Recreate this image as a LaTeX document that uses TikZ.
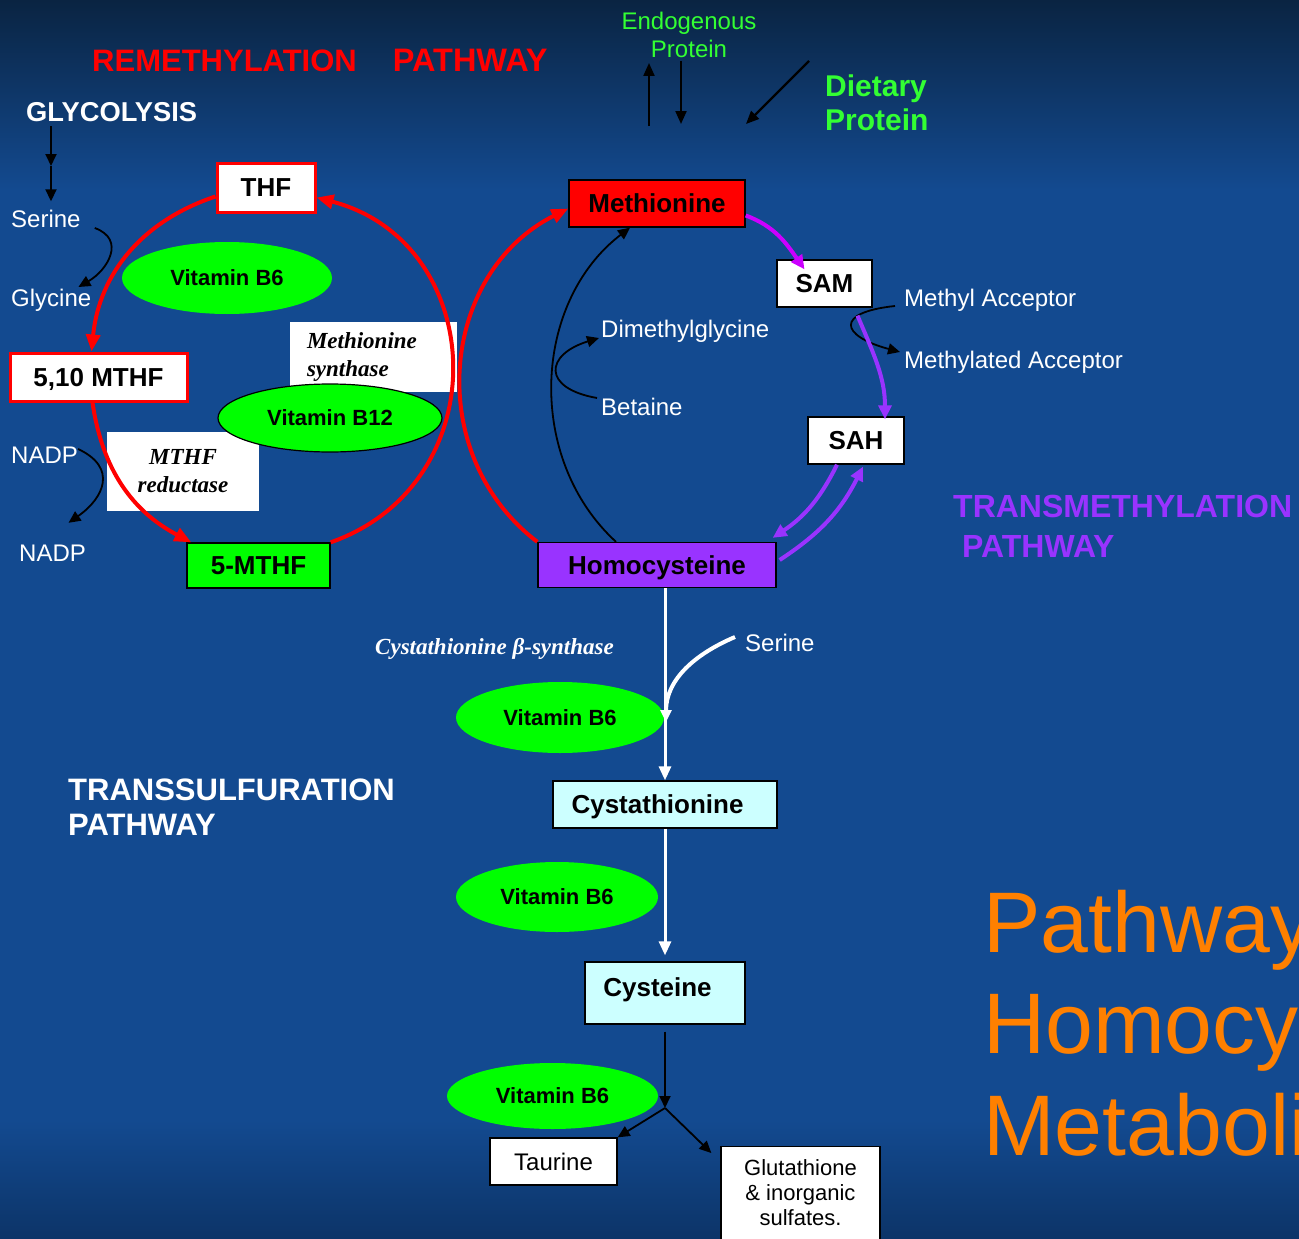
\documentclass[tikz,border=0pt]{standalone}
\usepackage{fontspec}
\setmainfont{Liberation Sans}
\newfontfamily\timesfont{Liberation Serif}
\usetikzlibrary{arrows.meta}
\usetikzlibrary{positioning}
\usetikzlibrary{shapes.geometric}
\newcommand{\setfs}[2]{\fontsize{#1}{#2}\selectfont}

\definecolor{bgtop}{RGB}{10,36,66}
\definecolor{bgmid}{RGB}{19,74,144}
\definecolor{bgbot}{RGB}{12,52,104}
\definecolor{vgreen}{RGB}{0,255,0}
\definecolor{tgreen}{RGB}{51,255,51}
\definecolor{hcypurple}{RGB}{153,51,255}
\definecolor{smagenta}{RGB}{204,0,255}
\definecolor{cyanbox}{RGB}{204,255,255}
\definecolor{titleorange}{RGB}{255,128,0}

\begin{document}
\begin{tikzpicture}[x=1pt,y=-1pt,inner sep=0pt]
\tikzstyle{txt}=[text=white,font=\setfs{24}{28},text height=17pt,text depth=0pt,anchor=west]
\tikzstyle{head}=[font=\bfseries\setfs{31}{36},text height=22pt,text depth=0pt,anchor=west]
\tikzstyle{box}=[draw=black,line width=1.3pt,fill=white,font=\bfseries\setfs{26}{30},text height=18.7pt,text depth=0pt]
\tikzstyle{redbox}=[box,draw=red,line width=3pt]
\tikzstyle{vit}=[ellipse,fill=vgreen,font=\bfseries\setfs{22}{26},text height=15.8pt,text depth=0pt]
\tikzstyle{enz}=[fill=white,font=\timesfont\bfseries\itshape\setfs{23}{28}]
\tikzstyle{thinarr}=[-{Triangle[length=12pt,width=11pt]},line width=1.8pt,black]
\tikzstyle{protarr}=[-{Triangle[length=13pt,width=11pt]},line width=2.2pt,black]
\tikzstyle{redarr}=[-{Triangle[length=17pt,width=14pt]},line width=4pt,red]
\tikzstyle{purparr}=[-{Triangle[length=14pt,width=13pt]},line width=4pt,hcypurple]
\tikzstyle{magarr}=[purparr,smagenta]
\tikzstyle{whitearr}=[-{Triangle[length=14pt,width=12pt]},line width=3pt,white]
\tikzstyle{whitecurve}=[-{Triangle[length=12pt,width=11pt]},line width=4pt,white]

\useasboundingbox (0,0) rectangle (1299,1239);
\clip (0,0) rectangle (1299,1239);
\fill[bgmid] (0,0) rectangle (1299,1239);
\shade[top color=bgtop,bottom color=bgmid] (0,0) rectangle (1299,190);
\shade[top color=bgmid,bottom color=bgbot] (0,1120) rectangle (1299,1239);

% remethylation cycle
\node[head,text=red] (remeth) at (92,61) {REMETHYLATION\hspace{36pt}{\setfs{32.5}{36}PATHWAY}};
\node[head,text=white,font=\bfseries\setfs{27.3}{30},text height=19.6pt] (glyco) at (26,112) {GLYCOLYSIS};
\node[txt] (ser1) at (11,219) {Serine};
\node[txt] (gly) at (11,298) {Glycine};
\node[txt] (nadp1) at (11,455) {NADP};
\node[txt] (nadp2) at (19,553) {NADP};

\node[enz,minimum width=167,minimum height=70,align=left,text width=133] (msyn) at (373.5,357) {Methionine\\synthase};
\node[enz,minimum width=152,minimum height=79,align=center] (mred) at (183,471.5) {MTHF\\reductase};
\node[vit,minimum width=210,minimum height=72] (vb6a) at (227,278) {Vitamin B6};
\node[vit,draw=black,line width=1.2pt,minimum width=224,minimum height=68] (vb12) at (330,418) {Vitamin B12};
\node[redbox,minimum width=98,minimum height=49] (THF) at (266,187.5) {THF};
\node[redbox,minimum width=177,minimum height=48] (M510) at (98.5,377) {5,10 MTHF};
\node[box,fill=vgreen,minimum width=143,minimum height=45] (M5) at (258.5,565.5) {5-MTHF};

% methionine cycle
\node[align=center,text=tgreen,font=\setfs{24}{28}] (endo) at (689,35) {Endogenous\\Protein};
\node[anchor=west,align=left,text=tgreen,font=\bfseries\setfs{30}{34}] (diet) at (825,103) {Dietary\\Protein};
\node[box,fill=red,minimum width=176,minimum height=47] (Met) at (657,203.5) {Methionine};
\node[box,minimum width=95,minimum height=47] (SAM) at (824.5,283.5) {SAM};
\node[box,minimum width=96,minimum height=47] (SAH) at (856,440.5) {SAH};
\node[box,fill=hcypurple,minimum width=238,minimum height=45] (Hcy) at (657,565) {Homocysteine};
\node[txt] (dmg) at (601,329) {Dimethylglycine};
\node[txt] (bet) at (601,407) {Betaine};
\node[txt] (macc) at (904,298) {Methyl Acceptor};
\node[txt] (mdacc) at (904,360) {Methylated Acceptor};
\node[head,text=hcypurple,font=\bfseries\setfs{32}{36}] (tm1) at (953,506) {TRANSMETHYLATION};
\node[head,text=hcypurple,font=\bfseries\setfs{32}{36}] (tm2) at (962,546) {PATHWAY};

% transsulfuration
\node[txt,font=\timesfont\bfseries\itshape\setfs{23}{28}] (cbs) at (375,646) {Cystathionine β-synthase};
\node[txt] (ser2) at (745,643) {Serine};
\node[vit,minimum width=208,minimum height=71] (vb6b) at (560,717.5) {Vitamin B6};
\node[box,fill=cyanbox,minimum width=224,minimum height=47] (Cysta) at (665,804.5) {Cystathionine\kern15pt};
\node[head,text=white] (ts1) at (68,789) {TRANSSULFURATION};
\node[head,text=white] (ts2) at (68,824) {PATHWAY};
\node[vit,minimum width=202,minimum height=70] (vb6c) at (557,897) {Vitamin B6};
\node[box,fill=cyanbox,minimum width=160,minimum height=62,text depth=12pt] (Cys) at (665,993) {Cysteine\kern15pt};
\node[box,font=\setfs{24}{28},text height=17pt,minimum width=127,minimum height=47] (taur) at (553.5,1161.5) {Taurine};
\node[box,anchor=north,minimum width=159,minimum height=110] (glut) at (800.5,1146) {};
\node[below=13pt of glut.north,align=center,font=\setfs{22}{25}] (gluttxt) {Glutathione\\\& inorganic\\sulfates.};

\node[anchor=base west,text=titleorange,font=\setfs{86}{100}] (ttl1) at (983,952) {Pathway};
\node[anchor=base west,text=titleorange,font=\setfs{86}{100}] (ttl2) at (983,1053) {Homocys};
\node[anchor=base west,text=titleorange,font=\setfs{86}{100}] (ttl3) at (983,1155) {Metaboli};

% arrows
\coordinate (e1) at (649,126);
\coordinate (e2) at (649,63);
\coordinate (e3) at (681,61);
\coordinate (e4) at (681,124);
\coordinate (d1) at (809,61);
\coordinate (d2) at (746,124);
\draw[protarr] (e1) -- (e2);
\draw[protarr] (e3) -- (e4);
\draw[protarr] (d1) -- (d2);

\coordinate (gmid) at (51,166);
\draw[thinarr,shorten <=4pt] (glyco.south -| gmid) -- (gmid);
\draw[thinarr,shorten >=9pt] (gmid) -- (ser1.north -| gmid);
\draw[thinarr] ([xshift=14pt,yshift=-9pt]ser1.east) to[out=-20,in=30,looseness=1.4] ([xshift=-13pt,yshift=11pt]gly.east);
\draw[thinarr] ([yshift=6pt]nadp1.east) to[out=-25,in=35,looseness=1.5] ([xshift=16pt,yshift=21.5pt]nadp2.north);

\draw[redarr] ([yshift=-9pt]THF.west) to[bend right=33] ([xshift=-7pt]M510.north);
\draw[redarr] ([xshift=-6pt]M510.south) to[bend right=27] ([xshift=5pt]M5.north west);
\draw[redarr] (M5.north east) to[bend right=73,looseness=1.32] ([yshift=-10pt]THF.east);

\draw[redarr] (Hcy.north west) to[bend left=58,looseness=1.1] ([yshift=-5pt]Met.west);
\draw[thinarr] ([xshift=-41pt]Hcy.north) to[bend left=50] ([xshift=-27pt]Met.south);
\draw[thinarr] ([xshift=-4pt,yshift=9pt]bet.west) to[out=170,in=197,looseness=2.4] ([xshift=-2pt,yshift=-9pt]dmg.west);

\draw[magarr] ([yshift=-12pt]Met.east) to[out=-20,in=125] ([xshift=-20pt,yshift=-10pt]SAM.north);
\draw[thinarr] ([xshift=-9pt,yshift=-8pt]macc.west) to[out=186,in=165,looseness=3.4] ([xshift=-4pt,yshift=8pt]mdacc.west);
\draw[purparr] ([xshift=33pt,yshift=-8pt]SAM.south) to[out=-67,in=90] ([xshift=29pt,yshift=-3pt]SAH.north);
\draw[purparr] ([xshift=-19pt]SAH.south) to[bend left=15] ([xshift=-4pt,yshift=4pt]Hcy.north east);
\draw[purparr] ([xshift=3pt,yshift=5pt]Hcy.east) to[bend right=15] ([xshift=7pt,yshift=-2pt]SAH.south);

\draw[whitearr] (Hcy.south -| Cysta) -- (Cysta.north);
\coordinate (serjoin) at (666,722);
\draw[whitecurve] ([xshift=-10pt,yshift=6pt]ser2.west) to[out=203,in=90] (serjoin);
\draw[whitearr,shorten >=6pt] (Cysta.south) -- (Cys.north);

\coordinate (br) at (665,1108);
\draw[thinarr,shorten <=7pt] (Cys.south) -- (br);
\draw[thinarr] (br) -- (taur.north east);
\draw[thinarr] (br) -- ([xshift=-9pt,yshift=-7pt]glut.north west);
\node[vit,minimum width=211,minimum height=66] (vb6d) at (552.5,1096) {Vitamin B6};
\end{tikzpicture}
\end{document}
